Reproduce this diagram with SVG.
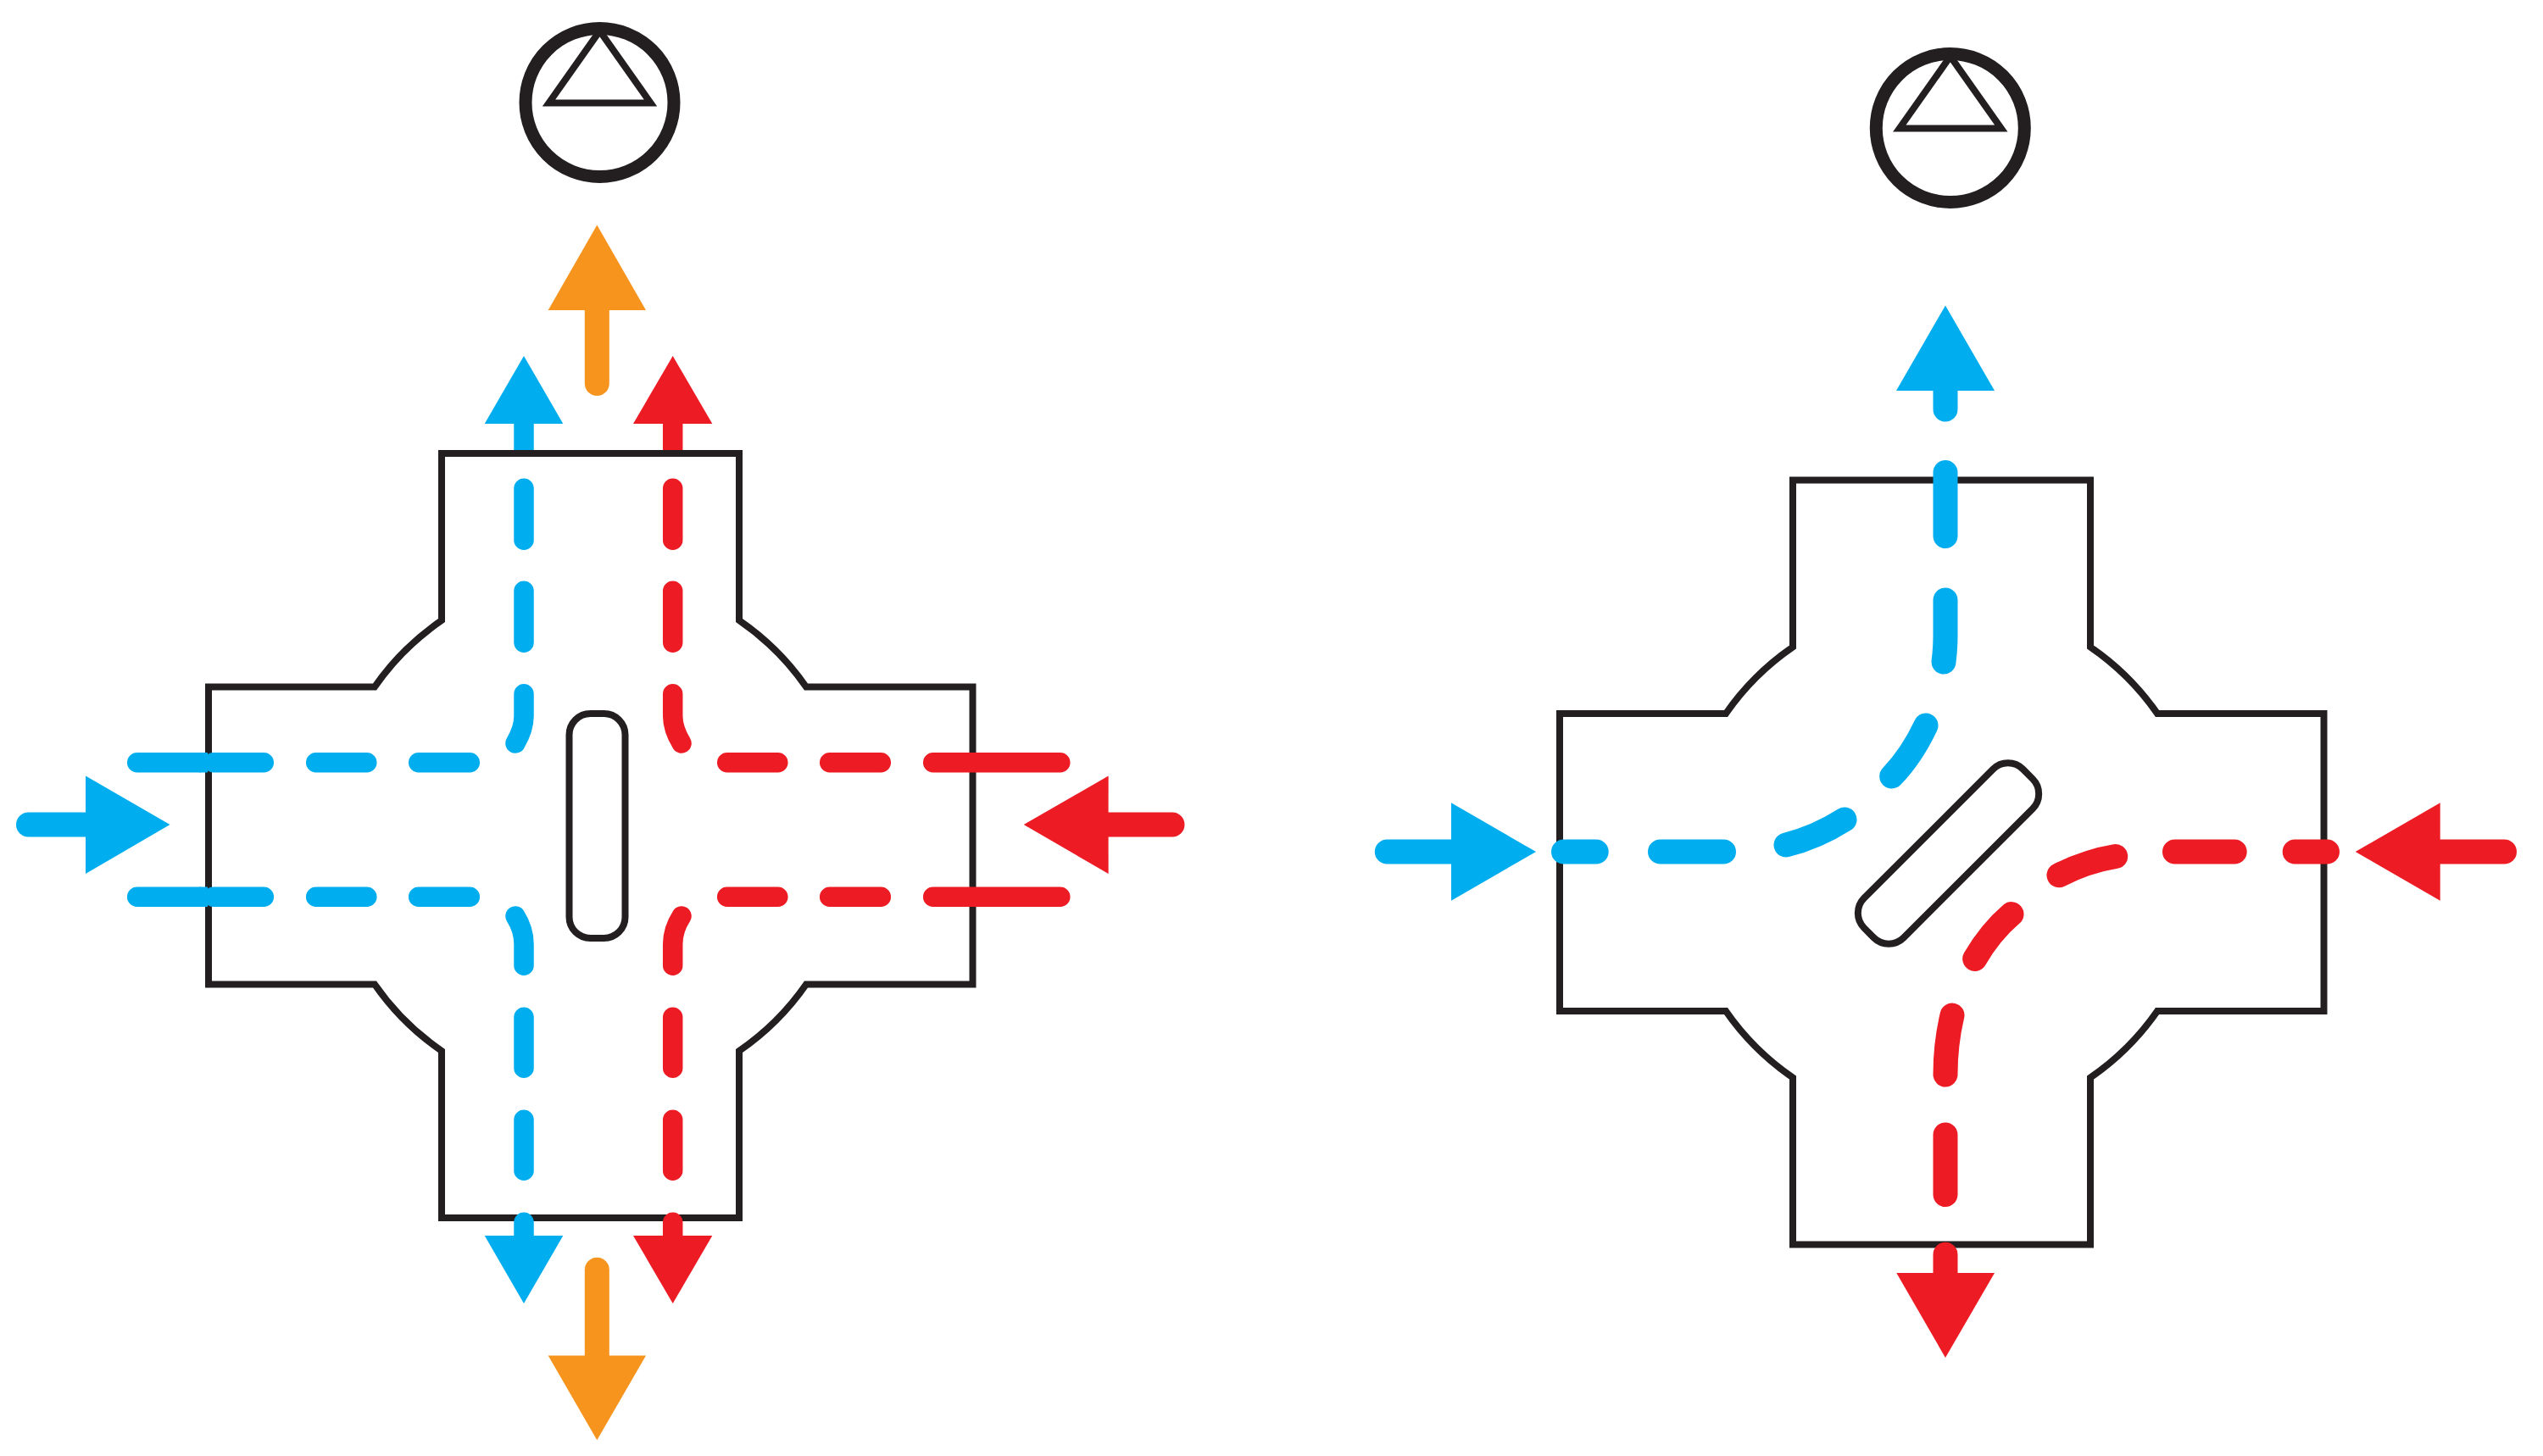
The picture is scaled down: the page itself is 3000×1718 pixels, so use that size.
<svg xmlns="http://www.w3.org/2000/svg" xmlns:xlink="http://www.w3.org/1999/xlink" width="3000" height="1718" viewBox="0 0 3000 1718">
<style>
.o{fill:none;stroke:#231F20;stroke-width:8;stroke-miterlimit:10}
.ring{fill:none;stroke:#231F20;stroke-width:15}
.b{fill:none;stroke:#00AEEF;stroke-linecap:round}
.r{fill:none;stroke:#ED1C24;stroke-linecap:round}
.y{fill:none;stroke:#F7941D;stroke-linecap:round}
.n{stroke-width:23.5}
.w{stroke-width:29}
.bf{fill:#00AEEF}
.rf{fill:#ED1C24}
.yf{fill:#F7941D}
</style>
<defs>
<path id="frame" class="o" d="M246 810.5H442A309 309 0 0 1 521 732V535H872V732A309 309 0 0 1 951 810.5H1147.5V1161.5H951A309 309 0 0 1 872 1240V1437H521V1240A309 309 0 0 1 442 1161.5H246Z"/>
<g id="pump"><circle class="ring" cx="707.5" cy="121" r="87.5"/><polygon class="o" points="647.5,121.5 707.5,36.5 767.5,121.5"/></g>
</defs>
<rect width="3000" height="1718" fill="#fff"/>
<g id="unit-left"><use xlink:href="#frame" href="#frame"/></g>
<g id="damper-left"><rect class="o" x="671.5" y="842" width="66" height="265" rx="25" ry="25"/></g>
<g id="pump-left"><use xlink:href="#pump" href="#pump"/></g>
<g id="unit-right"><use xlink:href="#frame" href="#frame" transform="translate(1594 31.5)"/></g>
<g id="damper-right"><rect class="o" x="2265.5" y="874.5" width="66" height="265" rx="25" ry="25" transform="rotate(45 2298.5 1007)"/></g>
<g id="pump-right"><use xlink:href="#pump" href="#pump" transform="translate(1593.3 30)"/></g>
<g id="connectors">
<g id="left-blue">
<path class="b w" d="M33.5 973H101"/><polygon class="bf" points="101,915.5 200.5,973 101,1031"/>
<path class="b n" d="M161.7 899.7H235M251.7 899.7H311.3M372.7 899.7H432.8M493.7 899.7H554.3"/>
<path class="b n" d="M161.7 1058.3H235M251.7 1058.3H311.3M372.7 1058.3H432.8M493.7 1058.3H554.3"/>
<path style="fill:none;stroke:#00AEEF;stroke-width:23.5" d="M235 899.7H245M235 1058.3H245"/>
<path class="b n" d="M618 576.3V637.3M618 697.3V758.3M618 818.7V845Q618 860 608 877"/>
<path class="b n" d="M608 1081Q618 1097 618 1114V1139.3M618 1200.2V1260.3M618 1321.2V1381.3M618 1442.2V1458"/>
<path style="fill:none;stroke:#00AEEF;stroke-width:23.5" d="M618 500V531"/>
<polygon class="bf" points="571.7,500 618,420 664.3,500"/>
<polygon class="bf" points="571.7,1458 618,1538 664.3,1458"/>
</g>
<g id="left-red">
<path class="r w" d="M1383 973H1307.6"/><polygon class="rf" points="1307.6,915.5 1207.7,973 1307.6,1031"/>
<path class="r n" d="M857.7 899.7H917.8M978.7 899.7H1039.3M1100.7 899.7H1250.8"/>
<path class="r n" d="M857.7 1058.3H917.8M978.7 1058.3H1039.3M1100.7 1058.3H1250.8"/>
<path class="r n" d="M793.7 576.3V637.3M793.7 697.3V758.3M793.7 818.7V845Q793.7 860 804 877"/>
<path class="r n" d="M804 1081Q793.7 1097 793.7 1114V1139.3M793.7 1200.2V1260.3M793.7 1321.2V1381.3M793.7 1442.2V1458"/>
<path style="fill:none;stroke:#ED1C24;stroke-width:23.5" d="M793.7 500V531"/>
<polygon class="rf" points="747,500 793.7,420 840.3,500"/>
<polygon class="rf" points="747,1458 793.7,1538 840.3,1458"/>
</g>
<g id="left-orange">
<path class="y w" d="M704.3 366V452.5"/><polygon class="yf" points="646.7,366 704.3,265.5 762,366"/>
<path class="y w" d="M704.3 1498.2V1600"/><polygon class="yf" points="646.7,1599.6 704.3,1699.3 762,1599.6"/>
</g>
<g id="right-blue">
<path class="b w" d="M1636.3 1005H1712"/><polygon class="bf" points="1712,947.3 1812,1005 1712,1062.7"/>
<path class="b w" d="M1844.5 1005H1883.2M1958.5 1005H2033.5"/>
<path class="b w" d="M2107 997Q2143 988 2176 967M2231.7 916Q2255 892 2272 856M2295 708V750Q2295 765 2293 781M2295 557.5V632.5"/>
<path class="b w" d="M2295 461V483"/><polygon class="bf" points="2237,461 2295,360.4 2353,461"/>
</g>
<g id="right-red">
<path class="r w" d="M2954.5 1005H2878.7"/><polygon class="rf" points="2878.7,947.3 2778.7,1005 2878.7,1062.7"/>
<path class="r w" d="M2565.5 1005H2636.2M2707.2 1005H2745.5"/>
<path class="r w" d="M2495.7 1010.5Q2462 1016 2429 1032.7M2373 1078.6Q2348 1100 2329.7 1131.4M2303 1198Q2295 1232 2295 1268M2295 1339V1409.5M2295 1480.2V1502"/>
<polygon class="rf" points="2237.3,1502 2295,1602 2353,1502"/>
</g>
</g>
</svg>
